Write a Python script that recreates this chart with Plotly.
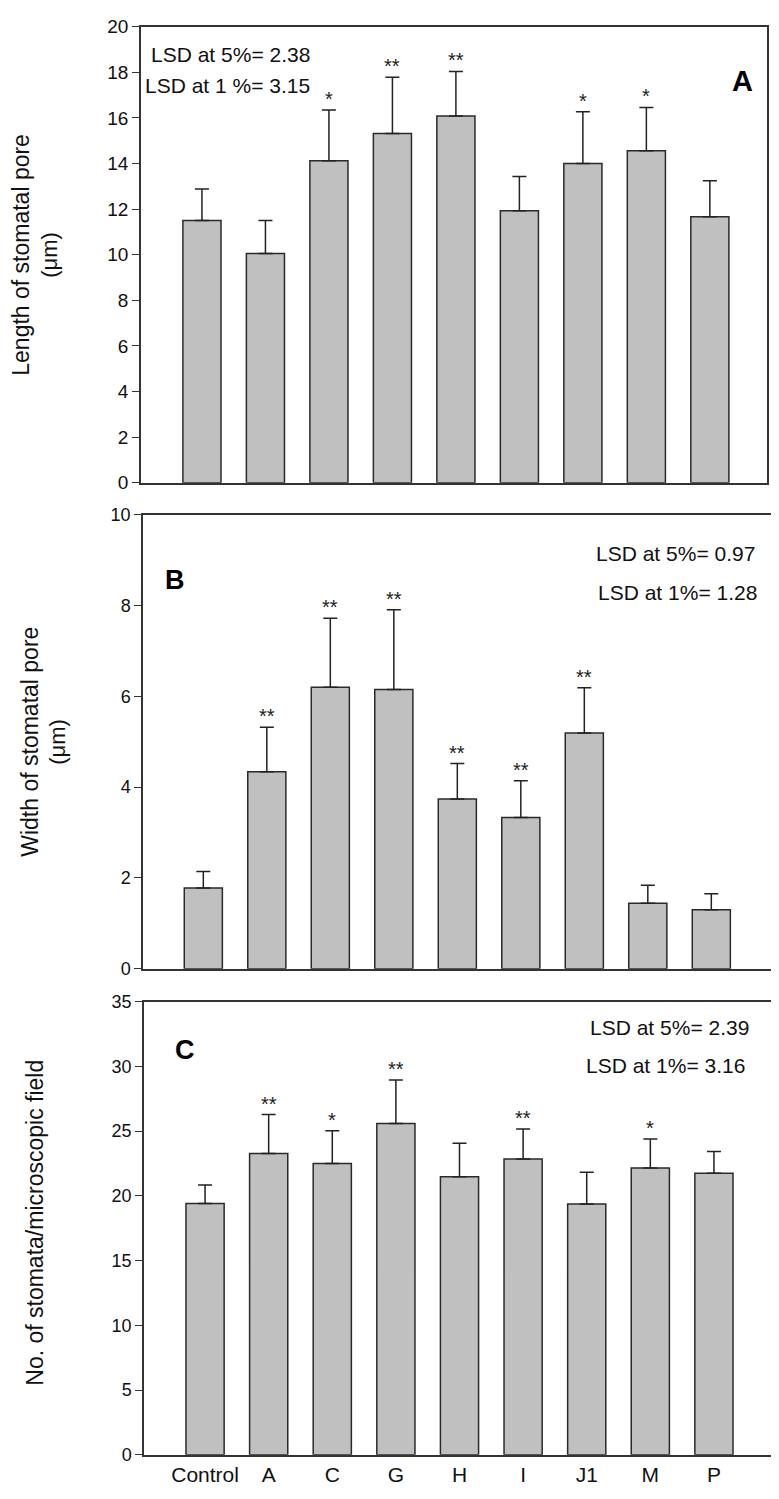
import plotly.graph_objects as go

categories = ["Control", "A", "C", "G", "H", "I", "J1", "M", "P"]

# Panel A: length of stomatal pore (um)
length_vals = [11.5, 10.05, 14.12, 15.32, 16.08, 11.93, 14.0, 14.56, 11.67]
length_err = [1.38, 1.45, 2.23, 2.46, 1.96, 1.5, 2.27, 1.9, 1.58]
length_sig = ["", "", "*", "**", "**", "", "*", "*", ""]

# Panel B: width of stomatal pore (um)
width_vals = [1.78, 4.34, 6.2, 6.15, 3.74, 3.33, 5.19, 1.44, 1.30]
width_err = [0.36, 0.98, 1.52, 1.76, 0.78, 0.81, 1.0, 0.40, 0.35]
width_sig = ["", "**", "**", "**", "**", "**", "**", "", ""]

# Panel C: number of stomata per microscopic field
count_vals = [19.42, 23.28, 22.51, 25.6, 21.48, 22.85, 19.37, 22.15, 21.74]
count_err = [1.42, 3.0, 2.53, 3.35, 2.58, 2.32, 2.45, 2.24, 1.68]
count_sig = ["", "**", "*", "**", "", "**", "", "*", ""]

# page placement corrections (body margin / capture)
OX = 8
SY, OFFY = 0.986, 17.5
W, H = 779 - OX, 1499


def px(x):
    return (x - OX) / W


def py(y):
    return 1 - (y / SY - OFFY) / H


FONT = "Liberation Sans, Arial, sans-serif"
AXC = "#333333"

# reference-pixel boxes: (left, right, top, bottom)
boxes = [(141, 767, 26, 482), (143, 771, 514, 968), (144, 775, 1001, 1454)]
xranges = [[-0.96, 8.9], [-0.95, 8.94], [-0.96, 8.96]]
yranges = [[0, 20], [0, 10], [0, 35]]
ydticks = [2, 2, 5]
tickfs = [19, 18, 18]

fig = go.Figure()
panels = [
    (length_vals, length_err, length_sig),
    (width_vals, width_err, width_sig),
    (count_vals, count_err, count_sig),
]

layout = dict(
    width=W, height=H,
    margin=dict(l=0, r=0, t=0, b=0),
    paper_bgcolor="white", plot_bgcolor="white",
    showlegend=False,
    font=dict(family=FONT, color="#111111"),
)

annotations = []
for i, (vals, errs, sigs) in enumerate(panels):
    n = "" if i == 0 else str(i + 1)
    xa, ya = "x" + n, "y" + n
    fig.add_trace(go.Bar(
        x=categories, y=vals, xaxis=xa, yaxis=ya, width=0.6,
        marker=dict(color="#C0C0C0", line=dict(color="#2a2a2a", width=1.5)),
        error_y=dict(type="data", symmetric=False, array=errs,
                     arrayminus=[0] * len(errs), color="#222222",
                     thickness=1.5, width=7),
    ))
    l, r, t, b = boxes[i]
    layout["xaxis" + n] = dict(
        domain=[px(l), px(r)], range=xranges[i], anchor=ya,
        showline=True, linecolor=AXC, linewidth=1.5, mirror=True,
        ticks="", showgrid=False, zeroline=False,
        showticklabels=(i == 2),
        tickfont=dict(size=21, family=FONT, color="#111111"),
        categoryorder="array", categoryarray=categories,
    )
    layout["yaxis" + n] = dict(
        domain=[py(b), py(t)], range=yranges[i], anchor=xa,
        showline=True, linecolor=AXC, linewidth=1.5, mirror=True,
        ticks="outside", ticklen=7, tickwidth=1.3, tickcolor=AXC,
        dtick=ydticks[i], showgrid=False, zeroline=False,
        tickfont=dict(size=tickfs[i], family=FONT, color="#111111"),
    )
    for c, v, e, s in zip(categories, vals, errs, sigs):
        if s:
            annotations.append(dict(
                x=c, y=v + e, xref=xa, yref=ya, text=s, showarrow=False,
                yanchor="bottom", yshift=-2,
                font=dict(size=20, family=FONT, color="#222222")))


def note(x, y, text, xanchor, size, color="#111111", angle=0):
    return dict(x=px(x), y=py(y), xref="paper", yref="paper", text=text,
                showarrow=False, xanchor=xanchor, yanchor="middle",
                textangle=angle, font=dict(size=size, family=FONT, color=color))


annotations += [
    # Panel A
    note(149, 54, "LSD at 5%= 2.38", "left", 21),
    note(143, 85, "LSD at 1 %= 3.15", "left", 21),
    note(742, 80, "<b>A</b>", "center", 29, "#000"),
    # Panel B
    note(757, 553, "LSD at 5%= 0.97", "right", 21),
    note(759, 592, "LSD at 1%= 1.28", "right", 21),
    note(175, 579, "<b>B</b>", "center", 27, "#000"),
    # Panel C
    note(751, 1027, "LSD at 5%= 2.39", "right", 21),
    note(747, 1065, "LSD at 1%= 3.16", "right", 21),
    note(185, 1049, "<b>C</b>", "center", 27, "#000"),
    # Y titles (one annotation per line)
    note(21, 254, "Length of stomatal pore", "center", 23, angle=-90),
    note(50, 254, "(μm)", "center", 22, angle=-90),
    note(30, 741, "Width of stomatal pore", "center", 23, angle=-90),
    note(58, 741, "(μm)", "center", 22, angle=-90),
    note(35, 1222, "No. of stomata/microscopic field", "center", 23, angle=-90),
]
layout["annotations"] = annotations
fig.update_layout(**layout)
fig.write_html("out.html")
